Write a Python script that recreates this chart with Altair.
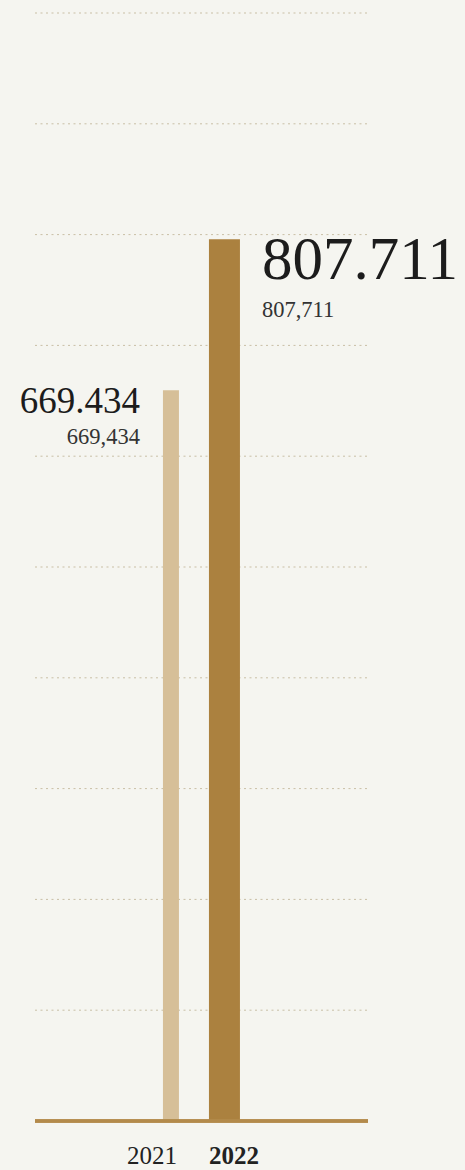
import altair as alt
import pandas as pd

years = ["2021", "2022"]
values = [669434, 807711]
bar_colors = ["#d6bf98", "#ab813f"]
grid_values = [101500, 203000, 304500, 406000, 507500, 609000, 710500, 812000, 913500, 1015000]

df = pd.DataFrame({"year": years, "value": values})
grid_df = pd.DataFrame({"g": grid_values})

FONT = "Liberation Serif"
W, H = 333, 1108

base = alt.Chart(df).transform_calculate(
    big="replace(format(datum.value, ','), /,/g, '.')",
    small="format(datum.value, ',')",
)

xscale = alt.Scale(domain=years, paddingInner=0, paddingOuter=0, range=[109.2, 216.2])
yscale = alt.Scale(domain=[0, 1015000], nice=False)
x = alt.X("year:N", scale=xscale, axis=None)
y = alt.Y("value:Q", scale=yscale, axis=None)

grid = alt.Chart(grid_df).mark_rule(
    color="#c9bfa5", strokeWidth=1, strokeDash=[2, 3.5]
).encode(
    y=alt.Y("g:Q", scale=yscale, axis=None),
    x=alt.value(0), x2=alt.value(W),
)

bars = base.mark_bar().encode(
    x=x, y=y,
    color=alt.Color("year:N", scale=alt.Scale(domain=years, range=bar_colors), legend=None),
    size=alt.condition("datum.year == '2022'", alt.value(31), alt.value(16)),
)

baseline = alt.Chart(grid_df).mark_rule(color="#b38a4b", strokeWidth=2.5).encode(
    x=alt.value(0), x2=alt.value(W), y=alt.value(H)
)

def f(yr):
    return f"datum.year == '{yr}'"

xt = alt.X("year:N", scale=xscale, axis=None)

big21 = base.transform_filter(f("2021")).mark_text(
    align="right", baseline="alphabetic", dx=-31, dy=23, font=FONT, fontSize=37, color="#1c1c1c"
).encode(x=xt, y=y, text="big:N")
small21 = base.transform_filter(f("2021")).mark_text(
    align="right", baseline="alphabetic", dx=-31, dy=54, font=FONT, fontSize=22.5, color="#333333"
).encode(x=xt, y=y, text="small:N")
big22 = base.transform_filter(f("2022")).mark_text(
    align="left", baseline="alphabetic", dx=37.5, dy=40, font=FONT, fontSize=61, color="#1c1c1c"
).encode(x=xt, y=y, text="big:N")
small22 = base.transform_filter(f("2022")).mark_text(
    align="left", baseline="alphabetic", dx=37.5, dy=78, font=FONT, fontSize=22.5, color="#333333"
).encode(x=xt, y=y, text="small:N")

yl21 = base.transform_filter(f("2021")).mark_text(
    align="right", baseline="alphabetic", dx=6, font=FONT, fontSize=25, color="#222222"
).encode(x=xt, y=alt.value(1151), text="year:N")
yl22 = base.transform_filter(f("2022")).mark_text(
    align="left", baseline="alphabetic", dx=-15.5, font=FONT, fontSize=25, fontWeight="bold", color="#222222"
).encode(x=xt, y=alt.value(1151), text="year:N")

chart = alt.layer(grid, bars, baseline, big21, small21, big22, small22, yl21, yl22).properties(
    width=W, height=H,
    background="#f5f5f0",
    padding={"left": 35, "top": 13, "right": 97, "bottom": 49},
    autosize=alt.AutoSizeParams(type="none"),
).configure_view(stroke=None)

chart.save("out.html", embed_options={"renderer": "svg", "actions": False})
